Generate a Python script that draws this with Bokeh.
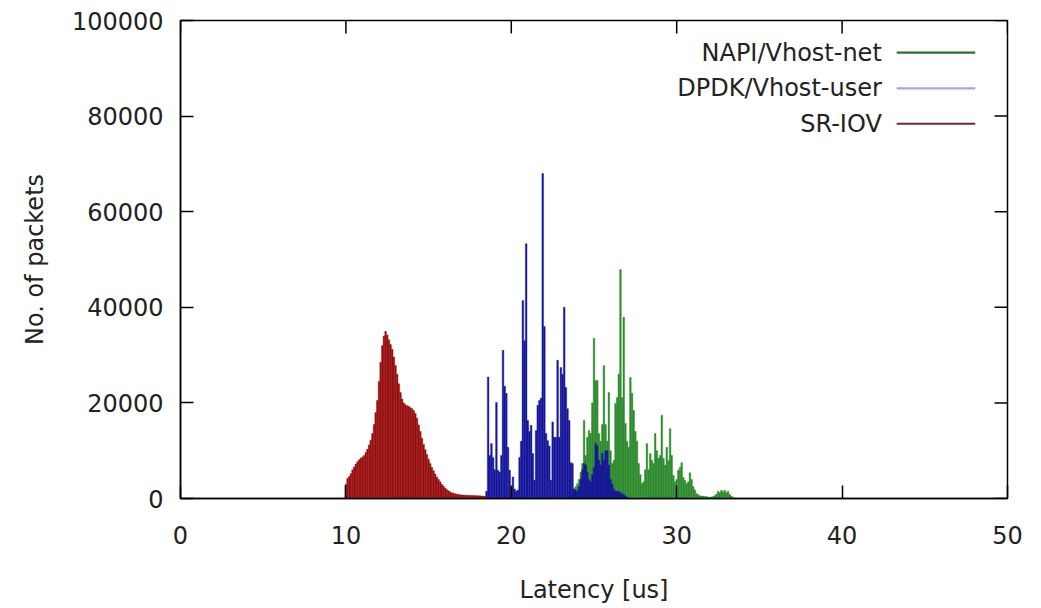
import math
from bokeh.plotting import figure
from bokeh.models import Range1d, FixedTicker, Label, ColumnDataSource
from bokeh.embed import file_html
from bokeh.resources import INLINE

# ---------------- data (histogram, bin width 0.1 us) ----------------
bin_width = 0.1

napi_start = 23.5
napi_counts = [
    500, 800, 1200, 2000, 2500, 3100, 4000, 5500, 7300, 16300,
    9000, 12800, 14200, 13600, 20000, 33500, 24700, 24700, 13600, 12000,
    15500, 27800, 15500, 12000, 22200, 10000, 7300, 8000, 19900, 21100,
    26000, 47900, 21100, 37900, 15700, 12000, 10700, 25300, 22000, 18400,
    14000, 12000, 7300, 5000, 3100, 3500, 6000, 11500, 6000, 9400,
    8000, 7300, 13600, 10000, 8400, 9000, 17400, 8400, 7000, 10700,
    7900, 14600, 9000, 4800, 3500, 4000, 5900, 6500, 7500, 4400,
    3800, 3100, 3500, 5400, 4000, 2500, 1800, 1000, 800, 600,
    500, 500, 400, 400, 300, 300, 300, 400, 600, 900,
    1500, 1200, 1700, 1400, 1700, 1200, 1500, 900, 500, 300,
]

dpdk_start = 18.5
dpdk_counts = [
    1500, 25400, 9000, 11500, 8600, 6000, 20100, 5900, 5500, 9000,
    31000, 23500, 22000, 10700, 5900, 2500, 4500, 2000, 1500, 1800,
    8600, 12000, 41400, 33000, 53300, 16300, 14000, 15300, 9400, 3800,
    14200, 19500, 20500, 21000, 68000, 36000, 13600, 12100, 11000, 3800,
    16000, 12800, 12800, 28900, 12800, 27400, 26000, 40000, 23200, 18800,
    16300, 7500, 7300, 2000, 1700, 1500, 2500, 4000, 6000, 7300,
    7000, 5500, 4000, 3500, 5000, 6500, 11500, 11000, 8000, 7000,
    9400, 8000, 10000, 10000, 7000, 4000, 3000, 2000, 1500, 1500,
    1500, 1200, 1000, 800, 500, 300,
]

sriov_start = 10.0
sriov_counts = [
    3000, 4200, 4600, 5200, 6000, 6600, 7200, 7700, 8100, 8400,
    8700, 9000, 9600, 10300, 11200, 12200, 13600, 15500, 18000, 20500,
    24500, 28500, 32000, 34000, 35000, 34200, 33200, 32200, 31200, 29600,
    27800, 26000, 24000, 22200, 20800, 20000, 19600, 19400, 19300, 19000,
    18800, 18400, 17800, 16800, 15400, 14000, 12600, 11300, 10200, 9200,
    8200, 7300, 6500, 5800, 5100, 4500, 4000, 3500, 3000, 2600,
    2200, 1900, 1600, 1400, 1200, 1100, 1000, 900, 850, 800,
    750, 720, 700, 700, 680, 650, 650, 620, 600, 600,
    580, 550, 520, 500, 450,
]

series_names = ["NAPI/Vhost-net", "DPDK/Vhost-user", "SR-IOV"]
series_starts = [napi_start, dpdk_start, sriov_start]
series_counts = [napi_counts, dpdk_counts, sriov_counts]
fill_colors = ["#2e8a2e", "#16169a", "#981010"]
key_colors = ["#2f6e2f", "#a8a8dc", "#702a2a"]

x_min, x_max = 0, 50
y_min, y_max = 0, 100000
x_ticks = [0, 10, 20, 30, 40, 50]
x_tick_labels = ["0", "10", "20", "30", "40", "50"]
y_ticks = [0, 20000, 40000, 60000, 80000, 100000]
y_tick_labels = ["0", "20000", "40000", "60000", "80000", "100000"]

FONT = "DejaVu Sans"
FS = "24px"
TICK_LEN = 13

p = figure(width=1041, height=608, output_backend="svg", toolbar_location=None,
           x_range=Range1d(x_min, x_max), y_range=Range1d(y_min, y_max))
p.min_border_left = 180
p.min_border_right = 34
p.min_border_top = 20
p.min_border_bottom = 110
p.grid.visible = False
p.background_fill_color = "white"
p.border_fill_color = "white"
p.outline_line_color = "black"
p.outline_line_width = 1.5

# histogram bars
for name, start, counts, col in zip(series_names, series_starts, series_counts, fill_colors):
    xs = [start + i * bin_width for i in range(len(counts))]
    src = ColumnDataSource(dict(x=xs, top=counts))
    p.vbar(x="x", top="top", width=bin_width, source=src,
           fill_color=col, line_color=col, line_width=0.4)

# axes
def style_axis(ax, ticks, labels):
    ax.ticker = FixedTicker(ticks=ticks)
    ax.major_label_overrides = {t: l for t, l in zip(ticks, labels)}
    ax.major_tick_in = TICK_LEN
    ax.major_tick_out = 0
    ax.minor_tick_in = 0
    ax.minor_tick_out = 0
    ax.major_tick_line_color = "black"
    ax.major_tick_line_width = 1.5
    ax.axis_line_color = "black"
    ax.axis_line_width = 1.5
    ax.major_label_text_font = FONT
    ax.major_label_text_color = "#222222"
    ax.major_label_text_font_size = FS

style_axis(p.xaxis[0], x_ticks, x_tick_labels)
style_axis(p.yaxis[0], y_ticks, y_tick_labels)
p.xaxis[0].major_label_standoff = 27
p.yaxis[0].major_label_standoff = 17
p.xaxis[0].axis_label = "Latency [us]"
p.yaxis[0].axis_label = "No. of packets"
for ax in (p.xaxis[0], p.yaxis[0]):
    ax.axis_label_text_font = FONT
    ax.axis_label_text_font_size = FS
    ax.axis_label_text_font_style = "normal"
    ax.axis_label_text_color = "#222222"
p.xaxis[0].axis_label_standoff = 29
p.yaxis[0].axis_label_standoff = 20

# mirrored inward ticks on the top and right edges (gnuplot "mirror")
p.ray(x=x_ticks, y=[y_max] * len(x_ticks), length=TICK_LEN, length_units="screen",
      angle=-math.pi / 2, line_color="black", line_width=1.5)
p.ray(x=[x_max] * len(y_ticks), y=y_ticks, length=TICK_LEN, length_units="screen",
      angle=math.pi, line_color="black", line_width=1.5)

# gnuplot-style key: text right-aligned, line sample on the right
key_rows_y = [93300, 85800, 78400]
for name, col, ky in zip(series_names, key_colors, key_rows_y):
    p.add_layout(Label(x=42.4, y=ky, text=name, text_align="right", text_baseline="middle",
                       text_font=FONT, text_font_size=FS, text_color="#222222"))
    p.segment(x0=[43.3], y0=[ky], x1=[48.05], y1=[ky], line_color=col, line_width=2.2)

open("out.html", "w").write(file_html(p, INLINE))
